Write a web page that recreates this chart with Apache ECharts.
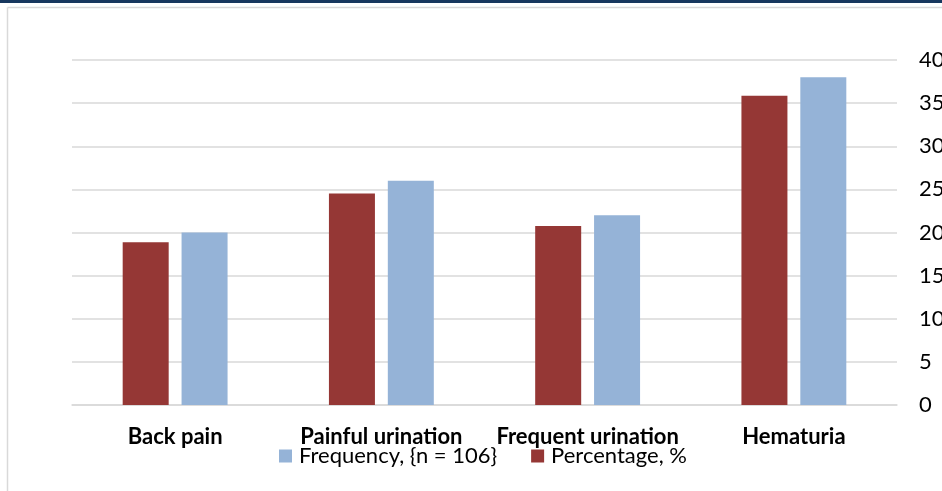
<!DOCTYPE html>
<html><head><meta charset="utf-8">
<script src="https://cdn.jsdelivr.net/npm/echarts@6/dist/echarts.min.js"></script>
<style>html,body{margin:0;padding:0;background:#fff}#c{width:942px;height:491px}</style>
</head><body><div id="c"></div>
<script>
const categories = ['Back pain', 'Painful urination', 'Frequent urination', 'Hematuria'];
const percentage = [18.87, 24.53, 20.75, 35.85];
const frequency = [20, 26, 22, 38];
const yTicks = [0, 5, 10, 15, 20, 25, 30, 35, 40];
const FONT = 'Lato, "Open Sans", sans-serif';
const chart = echarts.init(document.getElementById('c'), null, {renderer: 'canvas'});
chart.setOption({
  animation: false,
  backgroundColor: '#fff',
  graphic: [
    {type: 'rect', shape: {x: 0, y: 0, width: 942, height: 3}, style: {fill: '#17375e'}},
    {type: 'line', shape: {x1: 7.5, y1: 7.5, x2: 942, y2: 7.5}, style: {stroke: '#d9d9d9', lineWidth: 1.5}},
    {type: 'line', shape: {x1: 7.5, y1: 7.5, x2: 7.5, y2: 491}, style: {stroke: '#d9d9d9', lineWidth: 1.5}}
  ],
  grid: {left: 72, right: 45, top: 60, bottom: 86, containLabel: false, outerBoundsMode: 'none'},
  legend: {
    left: 274, top: 440, itemWidth: 13, itemHeight: 13, itemGap: 34, padding: 5,
    icon: 'rect',
    data: ['Frequency, {n = 106}', 'Percentage, %'],
    textStyle: {fontFamily: FONT, fontSize: 22, color: '#000', padding: [0,0,0,2]}
  },
  xAxis: {
    type: 'category', data: categories,
    axisLine: {show: true, lineStyle: {color: '#d9d9d9', width: 1.5}},
    axisTick: {show: false},
    axisLabel: {interval: 0, hideOverlap: false, fontFamily: FONT, fontWeight: 'bold', fontSize: 22, color: '#000', margin: 21}
  },
  yAxis: {
    type: 'value', position: 'right', min: yTicks[0], max: yTicks[yTicks.length-1], interval: 5,
    axisLine: {show: false}, axisTick: {show: false},
    splitLine: {lineStyle: {color: '#d9d9d9', width: 1.5}},
    axisLabel: {fontFamily: FONT, fontSize: 22, color: '#000', margin: 22, align: 'left'}
  },
  series: [
    {name: 'Percentage, %', type: 'bar', data: percentage, barWidth: 46, barGap: '28%',
     itemStyle: {color: '#953735'}},
    {name: 'Frequency, {n = 106}', type: 'bar', data: frequency, barWidth: 46,
     itemStyle: {color: '#95b3d7'}}
  ]
});
</script></body></html>
